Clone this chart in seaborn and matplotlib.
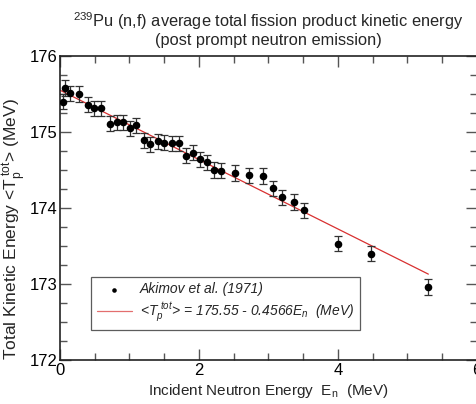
import numpy as np
import pandas as pd
import seaborn as sns
from matplotlib import pyplot as plt
from matplotlib.ticker import MultipleLocator

# Akimov et al. (1971) data
energy = [0.05, 0.07, 0.15, 0.27, 0.40, 0.49, 0.59, 0.72, 0.82, 0.90, 1.01, 1.10,
          1.21, 1.30, 1.41, 1.50, 1.61, 1.71, 1.82, 1.92, 2.01, 2.11, 2.22, 2.32,
          2.52, 2.72, 2.92, 3.07, 3.20, 3.36, 3.51, 4.00, 4.48, 5.30]
tke = [175.40, 175.58, 175.51, 175.50, 175.36, 175.31, 175.31, 175.11, 175.13, 175.13,
       175.05, 175.09, 174.89, 174.84, 174.88, 174.86, 174.85, 174.85, 174.69, 174.73,
       174.64, 174.60, 174.50, 174.49, 174.46, 174.43, 174.42, 174.26, 174.14, 174.08,
       173.97, 173.53, 173.40, 172.96]
tke_err = [0.10] * len(energy)

# linear fit <T> = 175.55 - 0.4566 E_n
fit_x = [0.0, 5.3]
fit_y = [175.55, 173.13]

sns.set_style("ticks")
plt.rcParams['font.family'] = ['Liberation Sans', 'DejaVu Sans']
plt.rcParams['mathtext.fontset'] = 'custom'
plt.rcParams['mathtext.rm'] = 'Liberation Sans'
plt.rcParams['mathtext.it'] = 'Liberation Sans:italic'

df = pd.DataFrame({'E': energy, 'T': tke, 'err': tke_err})
fit = pd.DataFrame({'E': fit_x, 'T': fit_y})

fig = plt.figure(figsize=(4.77, 4.04), dpi=100)
ax = fig.add_axes([60 / 477, 44 / 404, 417 / 477, 304 / 404])

ax.errorbar(df['E'], df['T'], yerr=df['err'], fmt='none', ecolor='#333333',
            elinewidth=0.9, capsize=3, capthick=0.9, zorder=2)
sns.scatterplot(data=df, x='E', y='T', ax=ax, color='black', s=30, edgecolor='black',
                linewidth=0, zorder=3, label='Akimov et al. (1971)')
sns.lineplot(data=fit, x='E', y='T', ax=ax, color='#d83030', linewidth=0.9, zorder=1,
             label=r'<$T_p^{\ tot}$> = 175.55 - 0.4566$E_n$  (MeV)')

ax.set_xlim(0, 6)
ax.set_ylim(172, 176)
ax.xaxis.set_major_locator(MultipleLocator(2))
ax.xaxis.set_minor_locator(MultipleLocator(0.5))
ax.yaxis.set_major_locator(MultipleLocator(1))
ax.yaxis.set_minor_locator(MultipleLocator(0.25))
ax.tick_params(which='both', direction='in', top=True, right=True, width=1, colors='#555555',
               labelcolor='black', labelsize=12)
ax.tick_params(which='major', length=8, pad=2)
ax.tick_params(which='minor', length=5)
for s in ax.spines.values():
    s.set_linewidth(1.2)
    s.set_color('#222222')

ax.set_xlabel(r'Incident Neutron Energy  $\mathregular{E_n}$  (MeV)', fontsize=11, labelpad=3)
ax.set_ylabel(r'Total Kinetic Energy <$\mathregular{T_p^{\ tot}}$> (MeV)', fontsize=12.5)
ax.yaxis.set_label_coords(-0.075, 0.43)
ax.set_title('$\\mathregular{^{239}}$Pu (n,f) average total fission product kinetic energy\n'
             '(post prompt neutron emission)', fontsize=11.8, linespacing=1.05, pad=8)

leg = ax.legend(loc='lower left', bbox_to_anchor=(0.075, 0.10), frameon=True, fancybox=False,
                prop={'style': 'italic', 'size': 10}, borderpad=0.4, labelspacing=0.3,
                handlelength=2.5, handletextpad=0.6, markerscale=0.6, borderaxespad=0)
leg.get_frame().set_edgecolor('#333333')
leg.get_frame().set_linewidth(0.9)
leg.get_lines()[0].set_alpha(0.7) if leg.get_lines() else None

fig.savefig('out.png', dpi=100)
